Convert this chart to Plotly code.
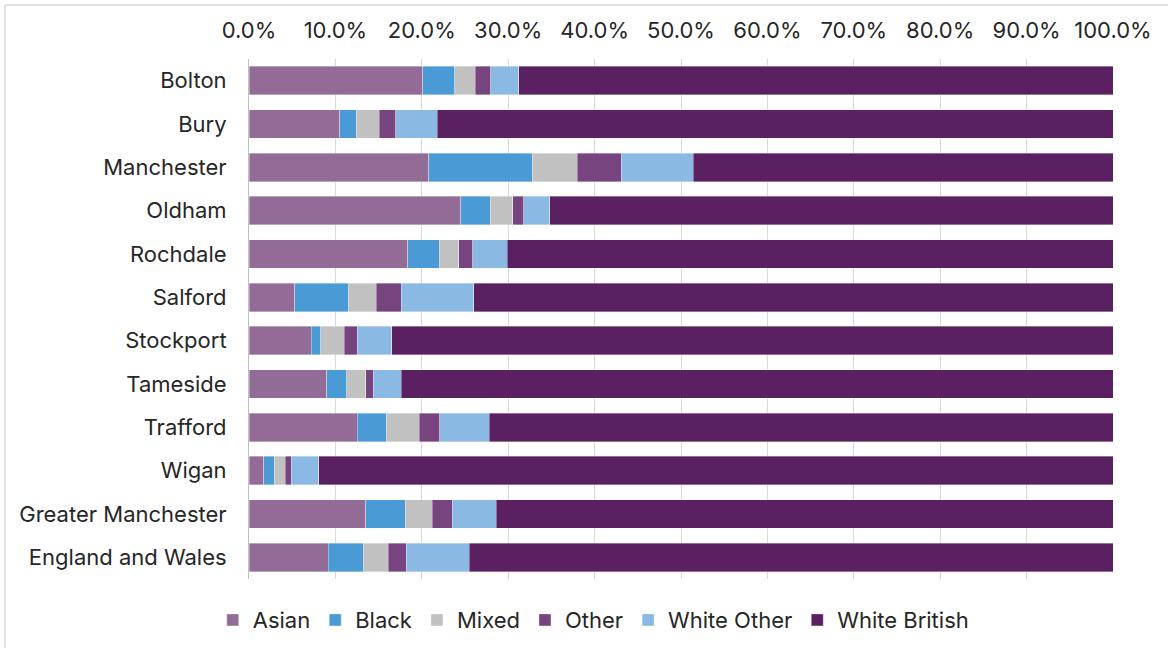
import plotly.graph_objects as go

areas = ["Bolton", "Bury", "Manchester", "Oldham", "Rochdale", "Salford", "Stockport",
         "Tameside", "Trafford", "Wigan", "Greater Manchester", "England and Wales"]

asian = [20.1, 10.5, 20.8, 24.5, 18.4, 5.3, 7.2, 9.0, 12.5, 1.7, 13.5, 9.2]
black = [3.7, 1.9, 12.0, 3.4, 3.6, 6.2, 1.1, 2.3, 3.4, 1.2, 4.6, 4.0]
mixed = [2.4, 2.7, 5.2, 2.6, 2.3, 3.2, 2.7, 2.2, 3.8, 1.3, 3.1, 2.9]
other = [1.8, 1.9, 5.1, 1.3, 1.6, 2.9, 1.5, 0.9, 2.4, 0.7, 2.3, 2.1]
white_other = [3.2, 4.8, 8.3, 3.0, 4.0, 8.4, 4.0, 3.2, 5.7, 3.2, 5.1, 7.3]
white_british = [68.8, 78.2, 48.6, 65.2, 70.1, 74.0, 83.5, 82.4, 72.2, 91.9, 71.4, 74.5]

series = [
    ("Asian", asian, "#926c96"),
    ("Black", black, "#4a9ad6"),
    ("Mixed", mixed, "#c1c1c1"),
    ("Other", other, "#78447f"),
    ("White Other", white_other, "#8ab9e3"),
    ("White British", white_british, "#5a2061"),
]

tick_vals = [0, 10, 20, 30, 40, 50, 60, 70, 80, 90, 100]
tick_text = ["0.0%", "10.0%", "20.0%", "30.0%", "40.0%", "50.0%", "60.0%",
             "70.0%", "80.0%", "90.0%", "100.0%"]

fig = go.Figure()
for name, vals, col in series:
    fig.add_trace(go.Bar(
        y=areas, x=vals, name=name, orientation="h",
        marker=dict(color=col, line=dict(color="rgba(255,255,255,0.6)", width=0.6)),
    ))

font_family = "Inter, Roboto, sans-serif"
fig.update_layout(
    barmode="stack",
    bargap=0.34,
    width=1168, height=648,
    margin=dict(l=249, r=55, t=59, b=69, autoexpand=False),
    paper_bgcolor="white",
    plot_bgcolor="white",
    font=dict(family=font_family, size=22, color="#262626"),
    legend=dict(
        orientation="h", x=0.399, xanchor="center", y=-0.079, yanchor="middle",
        font=dict(size=22, color="#262626"),
        itemwidth=30, traceorder="normal",
    ),
    xaxis=dict(
        side="top", range=[0, 100], tickvals=tick_vals, ticktext=tick_text,
        showgrid=True, gridcolor="#d9d9d9", gridwidth=1, automargin=False,
        zeroline=False, showline=False, ticks="", ticklabelstandoff=16,
        tickfont=dict(size=22, color="#262626"),
    ),
    yaxis=dict(
        autorange="reversed", showgrid=False, showline=True, automargin=False,
        linecolor="#bfbfbf", linewidth=1, ticks="", ticklabelstandoff=17,
        tickfont=dict(size=22, color="#262626"),
    ),
    shapes=[
        dict(type="line", xref="paper", yref="paper", x0=-0.2824, x1=1.1, y0=1.1038, y1=1.1038,
             line=dict(color="#d9d9d9", width=1.5)),
        dict(type="line", xref="paper", yref="paper", x0=-0.2824, x1=-0.2824, y0=1.1038, y1=-0.2,
             line=dict(color="#d9d9d9", width=1.5)),
    ],
)

fig.write_html("out.html")
